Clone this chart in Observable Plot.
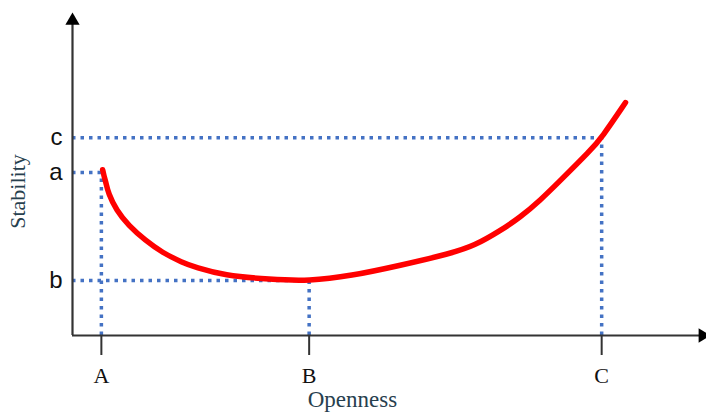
<!DOCTYPE html>
<html><head><meta charset="utf-8">
<script src="https://cdn.jsdelivr.net/npm/d3@7"></script>
<script src="https://cdn.jsdelivr.net/npm/@observablehq/plot@0.6"></script>
<style>html,body{margin:0;padding:0;background:#fff}#chart svg{display:block}</style>
</head><body><div id="chart"></div>
<script>
// Curve (Openness vs Stability), abstract units 0..10
const curveX = [0.48, 0.50, 0.53, 0.57, 0.70, 0.89, 1.16, 1.43, 1.75, 1.96, 2.41, 3.15, 3.77, 4.43, 5.22, 6.02, 6.40, 6.82, 7.13, 7.45, 7.77, 8.25, 8.43, 8.81];
const curveY = [5.18, 5.00, 4.80, 4.44, 3.91, 3.44, 2.97, 2.59, 2.28, 2.13, 1.88, 1.75, 1.70, 1.86, 2.19, 2.56, 2.80, 3.28, 3.69, 4.22, 4.84, 5.78, 6.18, 7.28];

// Marked points
const xTickValues = [0.46, 3.77, 8.43];
const xTickLabels = ["A", "B", "C"];
const yTickValues = [5.09, 1.72, 6.18];
const yTickLabels = ["a", "b", "c"];

// Axis extents (arrow heads)
const xAxisEnd = 10.04;
const yAxisEnd = 9.84;

const curve = curveX.map((x, i) => ({x, y: curveY[i]}));
const guides = xTickValues.map((x, i) => ({x, y: yTickValues[i]}));
const xFmt = new Map(xTickValues.map((v, i) => [v, xTickLabels[i]]));
const yFmt = new Map(yTickValues.map((v, i) => [v, yTickLabels[i]]));

const blue = "#4472c4";
const axisColor = "#333";

const chart = Plot.plot({
  width: 706,
  height: 416,
  marginLeft: 72,
  marginRight: 0,
  marginTop: 15,
  marginBottom: 81,
  x: {domain: [0, 10.1]},
  y: {domain: [0, 10]},
  style: {background: "#fff", overflow: "visible"},
  marks: [
    // dotted guides
    Plot.ruleY(guides, {y: "y", x1: 0, x2: "x", stroke: blue, strokeWidth: 3.5, strokeDasharray: "3.5,5"}),
    Plot.ruleX(guides, {x: "x", y1: 0, y2: "y", stroke: blue, strokeWidth: 3.5, strokeDasharray: "3.5,5"}),
    // curve
    Plot.line(curve, {x: "x", y: "y", curve: "basis", stroke: "#ff0000", strokeWidth: 5.5}),
    // axes lines
    Plot.ruleX([0], {y1: 0, y2: yAxisEnd, stroke: axisColor, strokeWidth: 2.2}),
    Plot.ruleY([0], {x1: 0, x2: xAxisEnd, stroke: axisColor, strokeWidth: 2.2}),
    Plot.dot([{x: 0, y: yAxisEnd}], {x: "x", y: "y", symbol: "triangle", r: 5.3, fill: "#000", stroke: "none"}),
    Plot.dot([{x: xAxisEnd, y: 0}], {x: "x", y: "y", symbol: "triangle", r: 5.3, fill: "#000", stroke: "none", rotate: 90}),
    // axis ticks and labels
    Plot.axisX({ticks: xTickValues, tickFormat: d => xFmt.get(d), tickSize: 20, tickPadding: 12,
      stroke: axisColor, strokeWidth: 2, fontSize: 22, fontFamily: "Liberation Serif, serif", fill: "#111", label: null}),
    Plot.axisY({ticks: yTickValues, tickFormat: d => yFmt.get(d), tickSize: 0, tickPadding: 10,
      fontSize: 24, fontFamily: "Liberation Sans, Arial, sans-serif", fill: "#111", label: null}),
    Plot.text(["Openness"], {frameAnchor: "bottom", x: 4.46, dy: 71, text: d => d, fontSize: 23,
      fontFamily: "Liberation Serif, serif", fill: "#27404e"}),
    Plot.text(["Stability"], {frameAnchor: "left", textAnchor: "middle", y: 4.5, dx: -55, rotate: -90, text: d => d, fontSize: 22,
      fontFamily: "Liberation Serif, serif", fill: "#27404e"})
  ]
});
document.getElementById("chart").appendChild(chart);
</script>
</body></html>
